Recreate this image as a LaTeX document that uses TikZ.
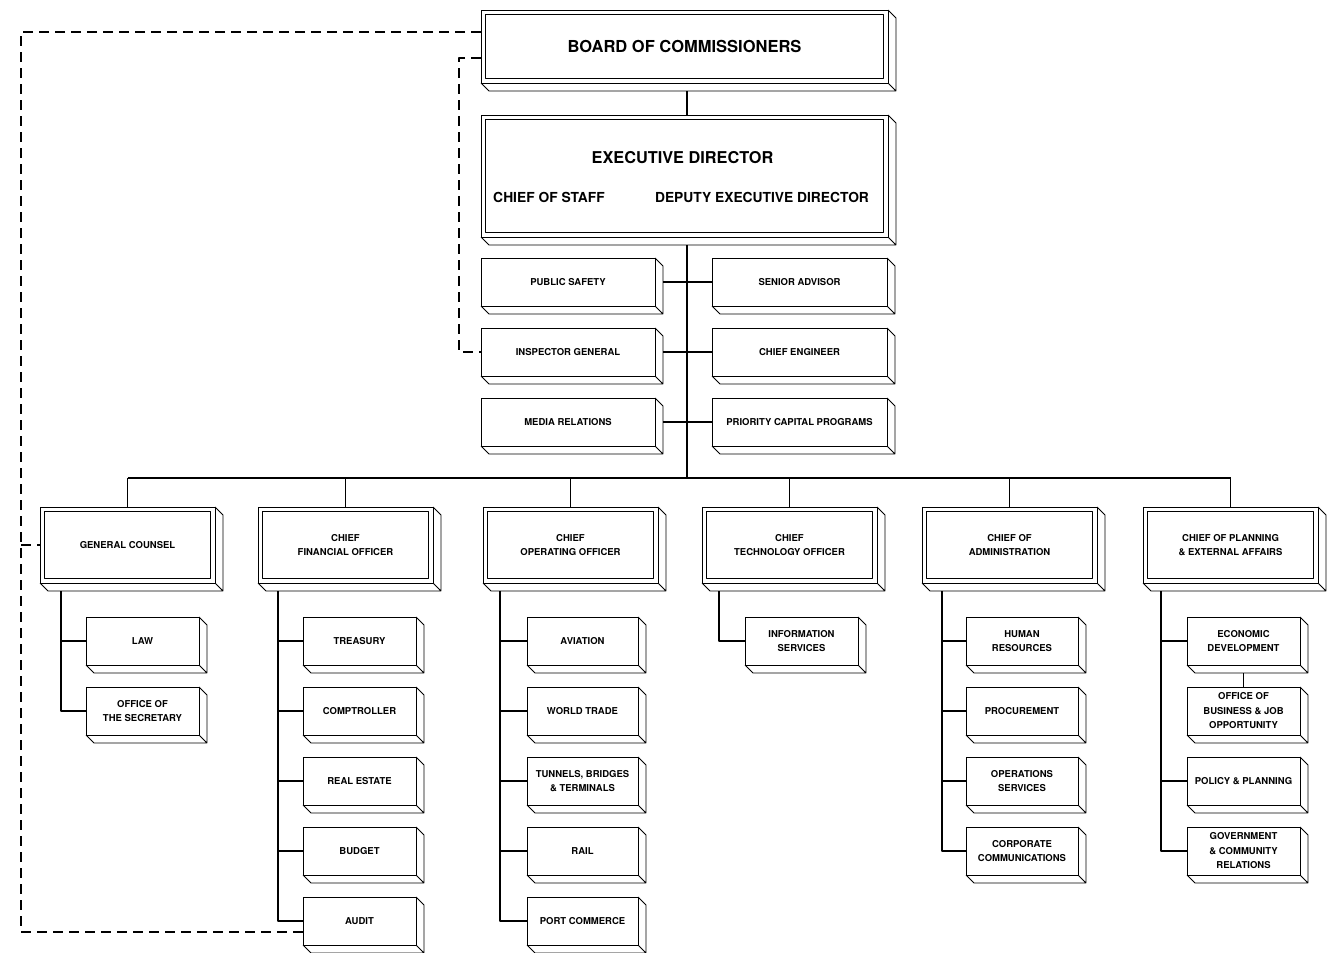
\documentclass[tikz,border=0pt]{standalone}
\usepackage{fontspec}
\setmainfont{TeX Gyre Heros}
\usetikzlibrary{calc}
\begin{document}
\begin{tikzpicture}[x=1pt,y=-1pt,
  line width=0.9pt, line join=round,
  base/.style={draw, rectangle, inner sep=0pt, outer sep=0pt, align=center,
    font=\bfseries\fontsize{9.5}{14.5}\selectfont},
  midbox/.style={base, minimum width=174pt, minimum height=48pt},
  chiefbox/.style={base, minimum width=175pt, minimum height=76pt},
  subbox/.style={base, minimum width=113pt, minimum height=48pt},
  dashline/.style={line width=1.3pt, dash pattern=on 10pt off 6pt},
  conn/.style={line width=1.3pt}
]
\useasboundingbox (0,0) rectangle (1328,953);

% top boxes
\node[base, minimum width=407pt, minimum height=73pt,
  font=\bfseries\fontsize{16.5}{18}\selectfont] (board) at (684.5,46.5) {BOARD OF COMMISSIONERS};
\node[base, minimum width=407pt, minimum height=122pt] (exec) at (684.5,176) {};
\node[font=\bfseries\fontsize{16.3}{18}\selectfont, inner sep=0pt] (edt) at (682.5,158) {EXECUTIVE DIRECTOR};
\node[font=\bfseries\fontsize{13.8}{16}\selectfont, inner sep=0pt] (cos) at (549,197) {CHIEF OF STAFF};
\node[font=\bfseries\fontsize{13.8}{16}\selectfont, inner sep=0pt] (ded) at (762,197) {DEPUTY EXECUTIVE DIRECTOR};

% staff boxes
\node[midbox] (ps) at (568,282) {PUBLIC SAFETY};
\node[midbox] (ig) at (568,352) {INSPECTOR GENERAL};
\node[midbox] (mr) at (568,422) {MEDIA RELATIONS};
\node[midbox, minimum width=175pt] (sa) at (799.5,282) {SENIOR ADVISOR};
\node[midbox, minimum width=175pt] (ce) at (799.5,352) {CHIEF ENGINEER};
\node[midbox, minimum width=175pt] (pcp) at (799.5,422) {PRIORITY CAPITAL PROGRAMS};

% chiefs
\node[chiefbox] (gc) at (127.5,545) {GENERAL COUNSEL};
\node[chiefbox] (cfo) at (345.5,545) {CHIEF\\FINANCIAL OFFICER};
\node[chiefbox] (coo) at (570.5,545) {CHIEF\\OPERATING OFFICER};
\node[chiefbox] (cto) at (789.5,545) {CHIEF\\TECHNOLOGY OFFICER};
\node[chiefbox] (coa) at (1009.5,545) {CHIEF OF\\ADMINISTRATION};
\node[chiefbox] (cop) at (1230.5,545) {CHIEF OF PLANNING\\\& EXTERNAL AFFAIRS};

% sub boxes
\node[subbox] (law) at (142.5,641) {LAW};
\node[subbox] (sec) at (142.5,711) {OFFICE OF\\THE SECRETARY};

\node[subbox] (tre) at (359.5,641) {TREASURY};
\node[subbox] (comp) at (359.5,711) {COMPTROLLER};
\node[subbox] (re) at (359.5,781) {REAL ESTATE};
\node[subbox] (bud) at (359.5,851) {BUDGET};
\node[subbox] (aud) at (359.5,921) {AUDIT};

\node[subbox, minimum width=111pt] (avi) at (582.5,641) {AVIATION};
\node[subbox, minimum width=111pt] (wt) at (582.5,711) {WORLD TRADE};
\node[subbox, minimum width=111pt] (tbt) at (582.5,781) {TUNNELS, BRIDGES\\\& TERMINALS};
\node[subbox, minimum width=111pt] (rail) at (582.5,851) {RAIL};
\node[subbox, minimum width=111pt] (pc) at (582.5,921) {PORT COMMERCE};

\node[subbox] (is) at (801.5,641) {INFORMATION\\SERVICES};

\node[subbox, minimum width=112pt] (hr) at (1022,641) {HUMAN\\RESOURCES};
\node[subbox, minimum width=112pt] (proc) at (1022,711) {PROCUREMENT};
\node[subbox, minimum width=112pt] (ops) at (1022,781) {OPERATIONS\\SERVICES};
\node[subbox, minimum width=112pt] (cc) at (1022,851) {CORPORATE\\COMMUNICATIONS};

\node[subbox] (eco) at (1243.5,641) {ECONOMIC\\DEVELOPMENT};
\node[subbox] (obj) at (1243.5,711) {OFFICE OF\\BUSINESS \& JOB\\OPPORTUNITY};
\node[subbox] (pp) at (1243.5,781) {POLICY \& PLANNING};
\node[subbox] (gcr) at (1243.5,851) {GOVERNMENT\\\& COMMUNITY\\RELATIONS};

% 3D extrusions
\foreach \n in {board,exec,ps,ig,mr,sa,ce,pcp,gc,cfo,coo,cto,coa,cop,law,sec,tre,comp,re,bud,aud,avi,wt,tbt,rail,pc,is,hr,proc,ops,cc,eco,obj,pp,gcr}{
  \draw (\n.south west) -- ++(8,8) -- ($(\n.south east)+(8,8)$) -- ($(\n.north east)+(8,8)$) -- (\n.north east)
        (\n.south east) -- ++(8,8);
}
% double frames
\foreach \n in {board,exec,gc,cfo,coo,cto,coa,cop}{
  \draw ([shift={(4.5,4.5)}]\n.north west) rectangle ([shift={(-4.5,-4.5)}]\n.south east);
}

% spine and bus
\coordinate (bus) at (687,478);
\draw[conn] ($(board.south -| bus)+(0,8)$) -- (exec.north -| bus);
\draw[conn] ($(exec.south -| bus)+(0,8)$) -- (bus);
\draw[conn] ([xshift=8pt]ps.east) -- (sa.west);
\draw[conn] ([xshift=8pt]ig.east) -- (ce.west);
\draw[conn] ([xshift=8pt]mr.east) -- (pcp.west);
\draw[conn] (gc.north |- bus) -- (cop.north |- bus);
\foreach \n in {gc,cfo,coo,cto,coa,cop}{
  \draw[conn] (\n.north |- bus) -- (\n.north);
}

% subtrees
\coordinate (tgc) at ($(gc.south west)+(21,8)$);
\coordinate (tcfo) at ($(cfo.south west)+(20,8)$);
\coordinate (tcoo) at ($(coo.south west)+(17,8)$);
\coordinate (tcto) at ($(cto.south west)+(17,8)$);
\coordinate (tcoa) at ($(coa.south west)+(20,8)$);
\coordinate (tcop) at ($(cop.south west)+(18,8)$);
\foreach \t/\n in {tgc/law,tgc/sec,tcfo/tre,tcfo/comp,tcfo/re,tcfo/bud,tcfo/aud,
  tcoo/avi,tcoo/wt,tcoo/tbt,tcoo/rail,tcoo/pc,tcto/is,
  tcoa/hr,tcoa/proc,tcoa/ops,tcoa/cc,tcop/eco,tcop/pp,tcop/gcr}{
  \draw[conn] (\t) |- (\n.west);
}
\draw[conn] ($(eco.south)+(0,8)$) -- (obj.north);

% dashed lines
\coordinate (outer) at (21,32);
\coordinate (inner) at (459,58);
\draw[dashline] ([yshift=14.5pt]board.west) -- (outer) |- ([yshift=-11pt]aud.west);
\draw[dashline] (outer |- gc.west) -- (gc.west);
\draw[dashline] ([yshift=-11.5pt]board.west) -- (inner) |- (ig.west);
\end{tikzpicture}
\end{document}
